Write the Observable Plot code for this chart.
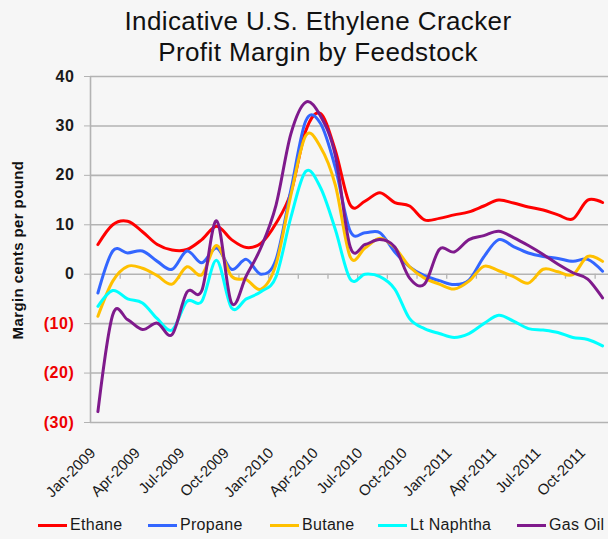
<!DOCTYPE html>
<html>
<head>
<meta charset="utf-8">
<script src="https://cdn.jsdelivr.net/npm/d3@7"></script>
<script src="https://cdn.jsdelivr.net/npm/@observablehq/plot@0.6"></script>
<style>
html,body{margin:0;padding:0;background:#f6f6f6;}
#wrap{position:relative;width:608px;height:539px;overflow:hidden;background:#f6f6f6;font-family:"Liberation Sans",Arial,Helvetica,sans-serif;}
#chart{position:absolute;left:0;top:0;}
#title{position:absolute;left:14px;top:6px;width:608px;text-align:center;font-size:26px;line-height:31px;color:#111;letter-spacing:0.4px;}
#ylab{position:absolute;left:17px;top:250px;transform:translate(-50%,-50%) rotate(-90deg);white-space:nowrap;font-weight:bold;font-size:15px;color:#111;letter-spacing:0.4px;}
.lg{position:absolute;top:514px;height:22px;display:flex;align-items:center;font-size:16px;color:#1a1a1a;letter-spacing:0.3px;white-space:nowrap;}
.lg i{display:inline-block;width:29px;height:3px;margin-right:3px;}
g[aria-label="xlabels"] text{letter-spacing:0.3px;}
g[aria-label="y-axis tick label"] text{letter-spacing:0.6px;}
</style>
</head>
<body>
<div id="wrap">
  <div id="chart"></div>
  <div id="title">Indicative U.S. Ethylene Cracker<br>Profit Margin by Feedstock</div>
  <div id="ylab">Margin cents per pound</div>
  <div id="legend"></div>
</div>
<script>
// Categories: monthly, Jan-2009 .. Nov-2011
const months = [
  "Jan-2009","Feb-2009","Mar-2009","Apr-2009","May-2009","Jun-2009","Jul-2009","Aug-2009","Sep-2009","Oct-2009","Nov-2009","Dec-2009",
  "Jan-2010","Feb-2010","Mar-2010","Apr-2010","May-2010","Jun-2010","Jul-2010","Aug-2010","Sep-2010","Oct-2010","Nov-2010","Dec-2010",
  "Jan-2011","Feb-2011","Mar-2011","Apr-2011","May-2011","Jun-2011","Jul-2011","Aug-2011","Sep-2011","Oct-2011","Nov-2011"
];
const xTickLabels = ["Jan-2009","Apr-2009","Jul-2009","Oct-2009","Jan-2010","Apr-2010","Jul-2010","Oct-2010","Jan-2011","Apr-2011","Jul-2011","Oct-2011"];
const yTicks = [-30,-20,-10,0,10,20,30,40];

const ethane = [6.0,10.0,10.7,8.6,6.0,4.9,5.0,7.0,9.7,7.0,5.4,6.3,10.3,16.5,29.0,32.5,25.0,14.0,14.8,16.5,14.5,13.8,11.0,11.3,12.0,12.6,13.8,15.0,14.4,13.6,13.0,12.0,11.2,15.0,14.5];
const propane = [-3.8,4.7,4.3,4.7,2.6,1.0,4.7,2.3,5.3,1.0,3.0,0.0,3.0,17.0,31.0,30.5,21.5,8.7,8.4,8.4,4.5,1.5,-0.3,-1.3,-2.1,-1.2,3.5,7.0,5.6,4.3,3.6,3.2,2.6,3.0,0.6];
const butane = [-8.5,-1.4,1.6,1.2,-0.3,-2.0,1.5,-0.1,5.8,-0.4,-1.1,-3.0,2.0,16.0,28.0,25.7,18.0,3.5,5.3,7.3,5.4,1.5,-0.8,-2.0,-3.0,-1.4,1.6,0.7,-0.5,-1.8,1.0,0.5,-0.1,3.6,2.6];
const ltNaphtha = [-6.5,-3.3,-5.0,-5.8,-9.0,-11.3,-5.5,-5.5,2.8,-6.8,-5.0,-3.5,-0.5,11.5,20.8,17.5,9.0,-1.0,0.0,-0.5,-3.0,-9.0,-11.0,-12.0,-12.8,-12.0,-10.0,-8.3,-9.5,-11.0,-11.3,-11.8,-12.8,-13.2,-14.5];
const gasOil = [-27.8,-8.2,-9.2,-11.2,-9.9,-12.2,-3.6,-3.3,10.8,-5.8,-0.3,5.5,14.0,28.4,34.8,32.0,24.0,5.5,6.0,7.0,5.5,-0.8,-2.0,5.0,4.5,7.0,7.8,8.7,7.4,5.8,4.0,2.0,0.3,-1.0,-4.8];

const seriesNames = ["Ethane","Propane","Butane","Lt Naphtha","Gas Oil"];
const seriesValues = [ethane, propane, butane, ltNaphtha, gasOil];
const seriesColors = ["#ff0000","#3366ff","#ffc000","#00ffff","#7f1a8c"];

const xDomain = [-0.5, months.length - 0.6];
const zeroTicks = d3.range(-0.5, months.length - 1, 2);
const grid = "#b3b3b3";

const lineMarks = seriesValues.map((vals, k) =>
  Plot.lineY(vals, {x: (d, i) => i, y: d => d, stroke: seriesColors[k], strokeWidth: 3, curve: "cardinal", strokeLinejoin: "round"})
);

const chart = Plot.plot({
  width: 608,
  height: 539,
  marginLeft: 90,
  marginRight: 0,
  marginTop: 76,
  marginBottom: 117,
  style: {background: "transparent", fontFamily: "'Liberation Sans', Arial, sans-serif", overflow: "visible"},
  x: {domain: xDomain, axis: null},
  y: {domain: [yTicks[0], yTicks[yTicks.length - 1]], axis: null},
  marks: [
    Plot.ruleY(yTicks, {stroke: grid, strokeWidth: 1.6}),
    Plot.ruleX([xDomain[0]], {stroke: grid, strokeWidth: 1.6}),
    Plot.ruleX(zeroTicks, {x: d => d, y1: 0, y2: 0, insetBottom: -5, stroke: grid, strokeWidth: 1.3}),
    Plot.axisY(yTicks.filter(d => d >= 0), {tickSize: 6, tickPadding: 10, stroke: grid, fill: "#1a1a1a", fontSize: 16, fontWeight: "bold", tickFormat: d => String(d)}),
    Plot.axisY(yTicks.filter(d => d < 0), {tickSize: 6, tickPadding: 10, stroke: grid, fill: "#ee0000", fontSize: 16, fontWeight: "bold", tickFormat: d => `(${-d})`}),
    ...lineMarks,
    Plot.text(xTickLabels, {x: d => months.indexOf(d), frameAnchor: "bottom", dy: 28, dx: -5, rotate: -45, textAnchor: "end", lineAnchor: "middle", fontSize: 15, fill: "#1a1a1a", ariaLabel: "xlabels"})
  ]
});
document.getElementById("chart").appendChild(chart);

// Legend
const legendX = [38, 148, 270, 378, 517];
const legend = document.getElementById("legend");
seriesNames.forEach((name, k) => {
  const el = document.createElement("div");
  el.className = "lg";
  el.style.left = legendX[k] + "px";
  el.innerHTML = `<i style="background:${seriesColors[k]}"></i>${name}`;
  legend.appendChild(el);
});
</script>
</body>
</html>
